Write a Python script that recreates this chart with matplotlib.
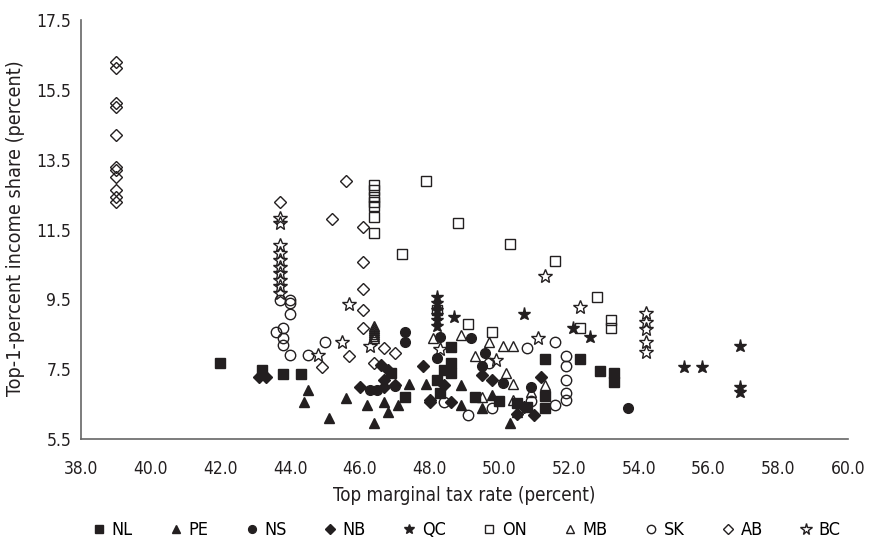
import matplotlib
matplotlib.use("Agg")
import matplotlib.pyplot as plt

plt.rcParams['font.family'] = ['DejaVu Sans']
plt.rcParams['font.stretch'] = 'condensed'

# province data: top marginal tax rate (x) vs top-1-percent income share (y)
nl_x = [42.0, 43.2, 43.8, 44.3, 46.9, 47.3, 48.2, 48.3, 48.4, 48.6, 48.6, 48.6,
        49.3, 50.0, 50.5, 50.8, 51.3, 51.3, 51.3, 52.3, 52.9, 53.3, 53.3]
nl_y = [7.69, 7.48, 7.36, 7.36, 7.38, 6.69, 7.18, 6.81, 7.48, 8.14, 7.69, 7.40,
        6.69, 6.60, 6.52, 6.43, 6.38, 6.74, 7.78, 7.78, 7.46, 7.38, 7.14]

pe_x = [44.5, 44.4, 45.1, 45.6, 46.2, 46.4, 46.7, 46.8, 47.1, 47.4, 47.9,
        48.9, 48.9, 49.5, 49.8, 50.3, 50.5]
pe_y = [6.90, 6.57, 6.09, 6.68, 6.47, 5.97, 6.57, 6.28, 6.47, 7.08, 7.08,
        7.05, 6.47, 6.40, 6.76, 5.97, 6.28]

ns_x = [46.3, 46.5, 47.0, 47.3, 47.3, 48.2, 48.3, 49.2, 49.6, 49.5, 50.1, 50.9, 53.7]
ns_y = [6.90, 6.90, 7.02, 8.57, 8.29, 7.81, 8.41, 8.39, 7.97, 7.60, 7.09, 6.98, 6.38]

nb_x = [43.1, 43.3, 46.0, 46.6, 46.8, 46.7, 46.7, 47.0, 47.8, 48.0, 48.0,
        48.4, 48.6, 49.5, 49.8, 50.5, 50.7, 51.0, 51.2]
nb_y = [7.27, 7.27, 6.98, 7.62, 7.48, 7.19, 6.98, 7.05, 7.59, 6.62, 6.57,
        7.05, 6.57, 7.33, 7.19, 6.23, 6.43, 6.19, 7.28]

qc_x = [48.2, 48.2, 48.2, 48.2, 48.2, 48.2, 48.7, 50.7, 52.1, 52.6, 55.3, 55.8,
        56.9, 56.9, 56.9]
qc_y = [9.58, 9.39, 9.20, 9.05, 8.91, 8.74, 8.99, 9.08, 8.69, 8.41, 7.55, 7.55,
        8.16, 7.00, 6.86]

on_x = [46.4, 46.4, 46.4, 46.4, 46.4, 46.4, 46.4, 47.9, 48.8, 47.2, 50.3, 51.6,
        52.8, 48.2, 49.1, 49.8, 52.3, 53.2, 53.2]
on_y = [12.78, 12.63, 12.44, 12.30, 12.16, 11.87, 11.39, 12.90, 11.70, 10.79, 11.09, 10.59,
        9.58, 9.20, 8.80, 8.57, 8.69, 8.91, 8.67]

mb_x = [46.4, 46.4, 46.4, 46.4, 46.4, 46.4, 46.4, 48.1, 48.9, 49.7, 50.1, 50.4,
        49.3, 50.2, 50.4, 51.3, 49.5, 50.4, 50.9]
mb_y = [8.75, 8.68, 8.62, 8.56, 8.50, 8.44, 8.38, 8.39, 8.48, 8.29, 8.16, 8.16,
        7.88, 7.38, 7.08, 7.05, 6.69, 6.62, 6.85]

sk_x = [43.7, 44.0, 44.0, 44.0, 43.6, 43.8, 43.8, 43.8, 45.0, 44.0, 44.5, 48.4,
        49.1, 49.7, 49.8, 50.8, 50.9, 51.6, 51.6, 51.9, 51.9, 51.9, 51.9, 51.9]
sk_y = [9.48, 9.48, 9.39, 9.07, 8.57, 8.67, 8.39, 8.19, 8.29, 7.91, 7.91, 6.57,
        6.19, 7.69, 6.38, 8.10, 6.60, 8.29, 6.47, 7.88, 7.59, 7.19, 6.83, 6.62]

ab_x = [39.0, 39.0, 39.0, 39.0, 39.0, 39.0, 39.0, 39.0, 39.0, 39.0, 39.0,
        43.7, 45.6, 45.2, 46.1, 46.1, 46.1, 46.1, 46.1, 46.7, 47.0, 45.7, 44.9, 46.4]
ab_y = [16.30, 16.13, 15.13, 15.01, 14.21, 13.29, 13.21, 13.01, 12.64, 12.43, 12.29,
        12.29, 12.90, 11.80, 11.58, 10.58, 9.79, 9.20, 8.69, 8.10, 7.96, 7.89, 7.57, 7.69]

bc_x = [43.7, 43.7, 43.7, 43.7, 43.7, 43.7, 43.7, 43.7, 43.7, 43.7,
        45.7, 45.5, 46.3, 44.8, 51.3, 52.3, 51.1, 49.9, 48.3,
        54.2, 54.2, 54.2, 54.2, 54.2]
bc_y = [11.82, 11.68, 11.06, 10.82, 10.63, 10.44, 10.25, 10.06, 9.87, 9.67,
        9.37, 8.27, 8.17, 7.90, 10.17, 9.27, 8.39, 7.77, 8.07,
        9.10, 8.86, 8.64, 8.29, 8.00]

ink = '#231f20'
series = [
    ('NL', nl_x, nl_y, 's', 7.0, True),
    ('PE', pe_x, pe_y, '^', 7.5, True),
    ('NS', ns_x, ns_y, 'o', 7.0, True),
    ('NB', nb_x, nb_y, 'D', 6.5, True),
    ('QC', qc_x, qc_y, '*', 9.5, True),
    ('ON', on_x, on_y, 's', 7.0, False),
    ('MB', mb_x, mb_y, '^', 7.5, False),
    ('SK', sk_x, sk_y, 'o', 7.5, False),
    ('AB', ab_x, ab_y, 'D', 6.5, False),
    ('BC', bc_x, bc_y, '*', 10.5, False),
]

fig = plt.figure(figsize=(8.71, 5.51), dpi=100)
ax = fig.add_axes([81 / 871, 1 - 439 / 551, 767 / 871, 419 / 551])

for name, xs, ys, mk, ms, filled in series:
    ax.plot(xs, ys, linestyle='none', marker=mk, markersize=ms,
            markerfacecolor=ink if filled else 'none',
            markeredgecolor=ink, markeredgewidth=1.0, label=name)

ax.set_xlim(38, 60)
ax.set_ylim(5.5, 17.5)
ax.set_xticks([38 + 2 * i for i in range(12)])
ax.set_xticklabels(['%.1f' % (38 + 2 * i) for i in range(12)])
ax.set_yticks([5.5, 7.5, 9.5, 11.5, 13.5, 15.5, 17.5])
ax.set_yticklabels(['5.5', '7.5', '9.5', '11.5', '13.5', '15.5', '17.5'])
ax.tick_params(axis='both', length=0, labelsize=12.5, colors='#231f20')
ax.tick_params(axis='x', pad=15)
ax.tick_params(axis='y', pad=7)

for s in ['top', 'right']:
    ax.spines[s].set_visible(False)
for s in ['left', 'bottom']:
    ax.spines[s].set_color('#666666')
    ax.spines[s].set_linewidth(1.2)

ax.set_xlabel('Top marginal tax rate (percent)', fontsize=13.5, color=ink)
ax.set_ylabel('Top-1-percent income share (percent)', fontsize=14.2, color=ink)
ax.xaxis.set_label_coords(0.5, -0.112)
ax.yaxis.set_label_coords(-0.073, 0.504)

fig.legend(loc='center', bbox_to_anchor=(0.535, 0.038), ncol=10, frameon=False,
           fontsize=13, markerscale=0.8, handlelength=0.8, handletextpad=0.3,
           columnspacing=2.0)

fig.savefig('out.png', dpi=100)
